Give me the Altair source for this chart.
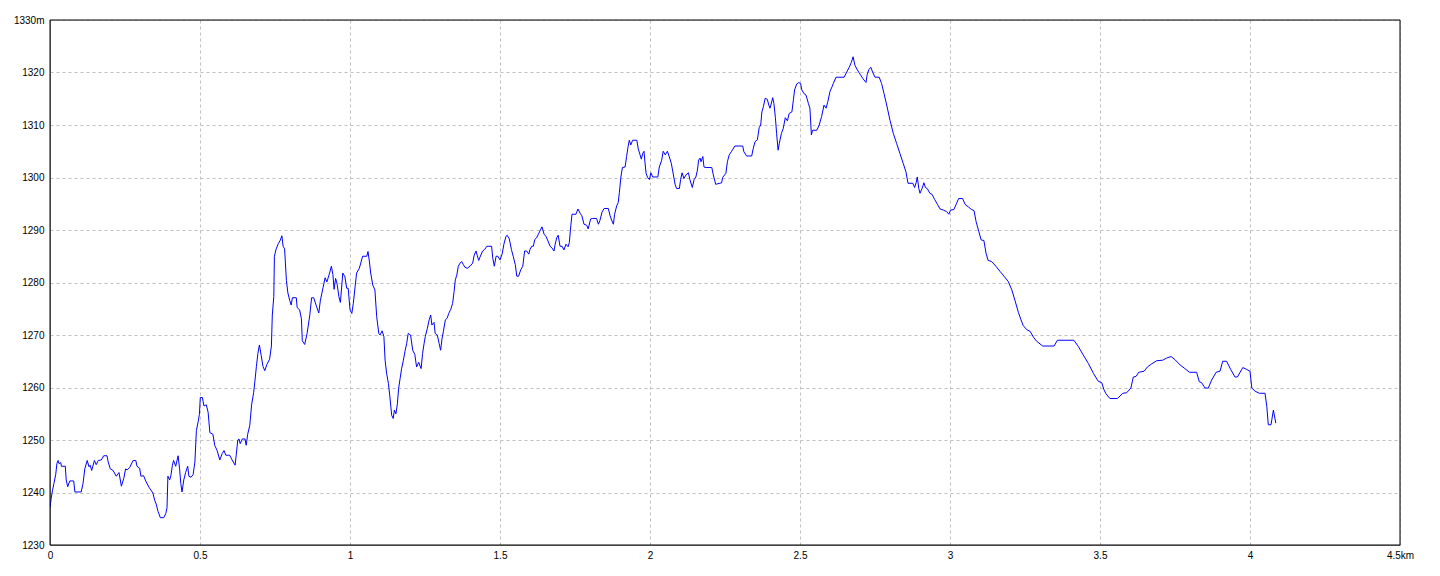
import altair as alt
import pandas as pd

distance_km = [
    0, 0.004, 0.008, 0.013, 0.019, 0.023, 0.027, 0.030, 0.036, 0.038, 0.051, 0.054, 0.059, 0.066, 0.079, 0.083,
    0.104, 0.110, 0.116, 0.124, 0.130, 0.134, 0.139, 0.148, 0.154, 0.161, 0.171, 0.179, 0.190, 0.194, 0.201, 0.210,
    0.221, 0.230, 0.238, 0.246, 0.252, 0.257, 0.266, 0.277, 0.286, 0.290, 0.299, 0.303, 0.312, 0.319, 0.330, 0.343,
    0.349, 0.354, 0.360, 0.368, 0.379, 0.386, 0.390, 0.393, 0.399, 0.403, 0.408, 0.412, 0.419, 0.427, 0.432, 0.436,
    0.440, 0.446, 0.452, 0.459, 0.463, 0.470, 0.477, 0.483, 0.488, 0.494, 0.498, 0.501, 0.508, 0.513, 0.521, 0.527,
    0.533, 0.543, 0.549, 0.557, 0.566, 0.574, 0.580, 0.586, 0.599, 0.607, 0.617, 0.621, 0.626, 0.630, 0.634, 0.641,
    0.650, 0.654, 0.659, 0.666, 0.672, 0.679, 0.683, 0.688, 0.693, 0.698, 0.704, 0.710, 0.716, 0.723, 0.732, 0.738,
    0.741, 0.746, 0.748, 0.754, 0.761, 0.768, 0.773, 0.777, 0.782, 0.788, 0.793, 0.799, 0.804, 0.808, 0.821, 0.824,
    0.832, 0.838, 0.841, 0.849, 0.857, 0.866, 0.872, 0.879, 0.888, 0.896, 0.901, 0.910, 0.917, 0.923, 0.932, 0.938,
    0.943, 0.947, 0.952, 0.957, 0.963, 0.968,
    0.976, 0.983, 0.989, 0.994, 1.000, 1.006, 1.011, 1.017, 1.022, 1.031, 1.036, 1.042, 1.056, 1.060, 1.064, 1.069,
    1.076, 1.083, 1.089, 1.096, 1.100, 1.107, 1.113, 1.117, 1.122, 1.128, 1.133, 1.139, 1.144, 1.148, 1.153, 1.158,
    1.162, 1.167, 1.172, 1.178, 1.183, 1.189, 1.194, 1.202, 1.209, 1.216, 1.222, 1.229, 1.237, 1.242, 1.247, 1.251,
    1.258, 1.264, 1.269, 1.273, 1.280, 1.284, 1.291, 1.297, 1.302, 1.307, 1.311, 1.318, 1.324, 1.329, 1.336, 1.342,
    1.347, 1.351, 1.356, 1.361, 1.367, 1.372, 1.378, 1.383, 1.391, 1.400, 1.409, 1.414, 1.420, 1.424, 1.429, 1.433,
    1.442, 1.449, 1.456, 1.472, 1.476, 1.481, 1.487, 1.493, 1.500, 1.507, 1.513, 1.520, 1.524, 1.531, 1.538, 1.544,
    1.551, 1.556, 1.562, 1.569, 1.576, 1.582, 1.589, 1.596, 1.600, 1.606, 1.611, 1.616, 1.622, 1.628, 1.633, 1.640,
    1.647, 1.653, 1.660, 1.667, 1.673, 1.680, 1.684, 1.689, 1.694, 1.700, 1.707, 1.713, 1.720, 1.727, 1.731, 1.736,
    1.740, 1.753, 1.760, 1.767, 1.773, 1.780, 1.789, 1.794, 1.802, 1.809, 1.822, 1.828, 1.833, 1.840, 1.847, 1.861,
    1.867, 1.872, 1.878, 1.882, 1.889, 1.894, 1.898,
    1.903, 1.908, 1.917, 1.922, 1.927, 1.931, 1.936, 1.942, 1.956, 1.961, 1.967, 1.971, 1.976, 1.980, 1.983, 1.987,
    1.992, 1.998, 2.003, 2.009, 2.026, 2.031, 2.039, 2.044, 2.051, 2.058, 2.064, 2.071, 2.078, 2.084, 2.089, 2.098,
    2.102, 2.107, 2.113, 2.120, 2.128, 2.133, 2.141, 2.147, 2.153, 2.158, 2.162, 2.167, 2.170, 2.176, 2.180, 2.187,
    2.206, 2.211, 2.219, 2.239, 2.242, 2.253, 2.258, 2.264, 2.272, 2.283, 2.309,
    2.313, 2.322, 2.339, 2.344, 2.350, 2.358, 2.364, 2.369, 2.373, 2.378, 2.384, 2.391, 2.396, 2.400, 2.404, 2.409,
    2.413, 2.418, 2.422, 2.427, 2.431, 2.438, 2.444, 2.451, 2.458, 2.464, 2.473, 2.478, 2.482, 2.489, 2.496, 2.502,
    2.506, 2.513, 2.520, 2.528, 2.533, 2.538, 2.542, 2.556, 2.564, 2.572, 2.580, 2.587, 2.593, 2.600, 2.607, 2.611,
    2.620, 2.647, 2.656, 2.664, 2.671, 2.677, 2.683, 2.691, 2.700, 2.709, 2.717, 2.720, 2.724, 2.730, 2.736, 2.742,
    2.750, 2.764, 2.772, 2.780, 2.789, 2.800, 2.811, 2.822, 2.833, 2.844, 2.853, 2.860, 2.876, 2.882, 2.887, 2.891,
    2.896, 2.900, 2.907, 2.913, 2.918, 2.924, 2.933, 2.940, 2.949, 2.958, 2.967, 2.978, 2.989, 2.996, 3.002, 3.013,
    3.022, 3.029, 3.042, 3.050, 3.061, 3.072, 3.080, 3.087, 3.096, 3.104, 3.113, 3.120, 3.127, 3.139, 3.153, 3.167,
    3.180, 3.194, 3.206,
    3.217, 3.228, 3.236, 3.244, 3.256, 3.267, 3.278, 3.289, 3.309, 3.347, 3.358, 3.413, 3.428, 3.444, 3.461, 3.478,
    3.494, 3.506, 3.513, 3.520, 3.533, 3.558, 3.576, 3.589, 3.603, 3.611, 3.620, 3.629, 3.647, 3.658, 3.672, 3.689,
    3.709, 3.722, 3.737, 3.750, 3.767, 3.783, 3.798, 3.822, 3.831, 3.839, 3.850, 3.861, 3.872, 3.887, 3.900, 3.909,
    3.922, 3.936, 3.950, 3.958, 3.976, 3.987, 4.000, 4.006, 4.017, 4.031, 4.050, 4.056, 4.061, 4.070, 4.078, 4.086,
]

elevation_m = [
    1237.1, 1238.9, 1240.3, 1241.7, 1243.4, 1245.5, 1246.1, 1245.5, 1245.7, 1245.0, 1245.0, 1242.4, 1241.1, 1242.2, 1242.2, 1240.1,
    1240.1, 1241.7, 1244.5, 1246.1, 1244.9, 1245.2, 1244.2, 1246.1, 1245.3, 1246.1, 1246.2, 1247.0, 1247.0, 1245.8, 1244.5, 1244.2,
    1243.1, 1243.8, 1241.2, 1242.7, 1244.5, 1244.3, 1244.8, 1246.1, 1246.1, 1245.0, 1244.6, 1243.1, 1243.2, 1242.2, 1241.0, 1239.9,
    1238.5, 1237.8, 1236.4, 1235.2, 1235.2, 1236.0, 1237.1, 1243.1, 1242.4, 1243.2, 1245.2, 1246.1, 1245.0, 1247.0, 1244.5, 1241.7,
    1240.1, 1242.4, 1243.8, 1245.0, 1243.1, 1242.9, 1243.4, 1245.8, 1251.8, 1253.5, 1254.9, 1258.1, 1258.1, 1256.5, 1256.7, 1255.3,
    1251.4, 1251.1, 1249.0, 1248.0, 1246.2, 1247.4, 1248.0, 1247.1, 1247.1, 1246.2, 1245.2, 1247.3, 1250.0, 1250.2, 1249.3, 1250.2,
    1250.2, 1249.0, 1251.1, 1252.8, 1256.7, 1259.1, 1261.2, 1264.0, 1266.5, 1268.1, 1266.1, 1264.0, 1263.2, 1264.4, 1265.4, 1267.9,
    1273.8, 1277.3, 1285.0, 1286.4, 1287.4, 1288.1, 1288.9, 1286.9, 1286.4, 1280.4, 1278.0, 1276.6, 1275.7, 1277.1, 1277.1, 1275.2,
    1274.8, 1273.1, 1268.9, 1268.2, 1270.3, 1273.8, 1277.1, 1277.1, 1275.5, 1274.2, 1276.5, 1279.0, 1280.9, 1280.1, 1281.8, 1283.1,
    1281.5, 1278.7, 1280.8, 1279.7, 1277.3, 1276.2,
    1281.8, 1281.1, 1278.9, 1278.9, 1274.8, 1274.1, 1276.0, 1279.2, 1281.8, 1282.7, 1283.7, 1285.0, 1285.0, 1285.9, 1284.3, 1281.8,
    1279.5, 1278.6, 1273.5, 1270.3, 1270.0, 1270.8, 1269.7, 1265.2, 1262.7, 1260.8, 1258.2, 1254.7, 1254.1, 1255.7, 1255.0, 1256.9,
    1259.8, 1261.7, 1263.6, 1265.2, 1266.8, 1268.4, 1270.3, 1270.0, 1267.1, 1266.3, 1263.9, 1264.8, 1263.6, 1266.5, 1268.4, 1269.7,
    1271.3, 1272.9, 1273.8, 1271.9, 1272.4, 1270.3, 1270.0, 1268.4, 1267.1, 1269.4, 1270.6, 1272.9, 1273.2, 1274.1, 1274.9, 1276.0,
    1278.3, 1280.5, 1281.4, 1283.1, 1283.7, 1284.0, 1283.4, 1282.9, 1282.7, 1283.1, 1283.7, 1285.2, 1286.0, 1285.2, 1284.2, 1284.8,
    1286.0, 1286.3, 1286.9, 1286.9, 1284.6, 1283.1, 1285.0, 1285.0, 1284.3, 1285.4, 1287.3, 1288.8, 1289.0, 1288.3, 1286.3, 1285.0,
    1283.4, 1281.2, 1281.2, 1282.4, 1283.1, 1286.0, 1286.0, 1285.4, 1286.3, 1286.9, 1286.9, 1288.2, 1288.5, 1289.2, 1289.8, 1290.6,
    1289.2, 1288.8, 1287.9, 1286.9, 1286.6, 1286.0, 1287.3, 1288.5, 1289.0, 1286.9, 1286.9, 1286.2, 1287.3, 1286.8, 1287.6, 1290.8,
    1293.0, 1293.0, 1294.0, 1293.2, 1292.7, 1291.1, 1290.9, 1290.2, 1292.1, 1292.2, 1292.2, 1291.1, 1291.8, 1293.4, 1294.1, 1294.1,
    1292.7, 1291.9, 1291.1, 1293.0, 1294.6, 1295.2, 1297.2,
    1300.1, 1301.9, 1302.0, 1304.0, 1305.9, 1307.1, 1306.2, 1307.1, 1307.1, 1305.4, 1304.3, 1303.5, 1304.6, 1305.0, 1303.0, 1300.8,
    1300.0, 1299.6, 1300.9, 1300.1, 1300.1, 1302.0, 1303.3, 1305.0, 1304.3, 1305.0, 1304.0, 1302.7, 1300.5, 1298.6, 1297.9, 1297.9,
    1299.6, 1300.9, 1299.8, 1300.5, 1300.9, 1299.6, 1298.1, 1299.6, 1300.1, 1301.4, 1303.3, 1303.7, 1303.0, 1304.0, 1302.0, 1301.9,
    1301.9, 1300.5, 1298.7, 1299.0, 1300.0, 1300.8, 1303.0, 1304.3, 1305.0, 1306.0, 1306.0,
    1304.9, 1304.1, 1304.1, 1305.5, 1306.8, 1307.2, 1309.5, 1310.0, 1312.5, 1313.5, 1315.1, 1314.9, 1313.8, 1313.2, 1314.0, 1315.2,
    1314.1, 1311.4, 1308.4, 1305.2, 1306.5, 1308.4, 1309.3, 1311.4, 1310.8, 1312.2, 1312.5, 1314.8, 1316.7, 1317.8, 1318.1, 1317.9,
    1316.7, 1316.0, 1315.7, 1314.1, 1313.2, 1308.1, 1309.0, 1309.0, 1310.0, 1311.6, 1313.8, 1313.2, 1314.5, 1316.4, 1317.3, 1317.9,
    1319.1, 1319.1, 1320.1, 1321.0, 1321.9, 1323.0, 1321.4, 1320.5, 1319.7, 1318.9, 1318.3, 1318.1, 1319.6, 1320.6, 1321.0, 1320.1,
    1319.1, 1319.1, 1317.9, 1316.0, 1313.8, 1310.9, 1308.4, 1306.5, 1304.6, 1302.7, 1301.1, 1298.9, 1298.9, 1298.1, 1299.0, 1300.1,
    1297.9, 1297.0, 1297.9, 1299.0, 1298.1, 1297.9, 1297.0, 1296.8, 1295.8, 1294.9, 1294.0, 1293.8, 1293.5, 1293.0, 1293.8, 1293.9,
    1295.1, 1296.0, 1296.0, 1294.9, 1294.4, 1293.9, 1293.7, 1291.6, 1289.7, 1288.1, 1288.0, 1285.6, 1284.2, 1284.0, 1283.1, 1282.1,
    1281.2, 1280.2, 1278.6,
    1276.5, 1274.3, 1273.0, 1271.8, 1271.0, 1270.7, 1269.6, 1268.8, 1267.9, 1267.9, 1269.0, 1269.0, 1267.8, 1266.2, 1264.6, 1262.7,
    1261.2, 1260.9, 1259.6, 1258.8, 1257.9, 1257.9, 1258.9, 1259.0, 1259.9, 1262.0, 1262.1, 1262.9, 1263.1, 1263.9, 1264.5, 1265.1,
    1265.2, 1265.6, 1265.9, 1265.3, 1264.3, 1263.6, 1262.9, 1262.9, 1261.1, 1260.9, 1259.9, 1259.9, 1261.4, 1262.9, 1263.1, 1265.0,
    1265.0, 1263.4, 1262.0, 1262.0, 1263.8, 1263.5, 1263.1, 1259.9, 1259.3, 1258.9, 1258.9, 1256.4, 1252.9, 1252.9, 1255.7, 1253.2,
]

x_ticks = [0, 0.5, 1, 1.5, 2, 2.5, 3, 3.5, 4, 4.5]
y_ticks = [1230, 1240, 1250, 1260, 1270, 1280, 1290, 1300, 1310, 1320, 1330]

df = pd.DataFrame({"km": distance_km, "m": elevation_m})

grid_style = dict(grid=True, gridColor="#c0c0c0", gridDash=[3, 3], gridWidth=1, gridOpacity=1)

x_enc = alt.X(
    "km:Q",
    scale=alt.Scale(domain=[0, 4.5], nice=False, zero=False),
    axis=alt.Axis(
        values=x_ticks,
        title=None,
        ticks=False,
        labelFlush=False,
        labelExpr="datum.value == 4.5 ? '4.5km' : '' + datum.value",
        labelPadding=5,
        **grid_style,
    ),
)
y_enc = alt.Y(
    "m:Q",
    scale=alt.Scale(domain=[1230, 1330], nice=False, zero=False),
    axis=alt.Axis(
        values=y_ticks,
        title=None,
        ticks=False,
        labelFlush=False,
        labelExpr="datum.value == 1330 ? '1330m' : '' + datum.value",
        labelPadding=6,
        **grid_style,
    ),
)

line = (
    alt.Chart(df)
    .mark_line(color="#0000ff", strokeWidth=1, clip=True)
    .encode(x=x_enc, y=y_enc)
)

frame = (
    alt.Chart(df.head(1))
    .mark_rect(fill=None, stroke="#000000", strokeWidth=1)
    .encode(
        x=alt.value(0),
        x2=alt.value(1350),
        y=alt.value(0),
        y2=alt.value(525),
    )
)

chart = (
    alt.layer(line, frame)
    .properties(
        width=1350,
        height=525,
        padding={"left": 42, "top": 12, "right": 30, "bottom": 20},
        autosize=alt.AutoSizeParams(type="none"),
    )
    .configure_view(stroke="#000000", strokeWidth=1)
    .configure_axis(
        domainColor="#000000",
        domainWidth=1,
        labelFont="Liberation Sans",
        labelFontSize=12,
        labelColor="#000000",
    )
    .configure(background="#ffffff")
)

chart.save("out.html", embed_options={"renderer": "svg", "actions": False})
